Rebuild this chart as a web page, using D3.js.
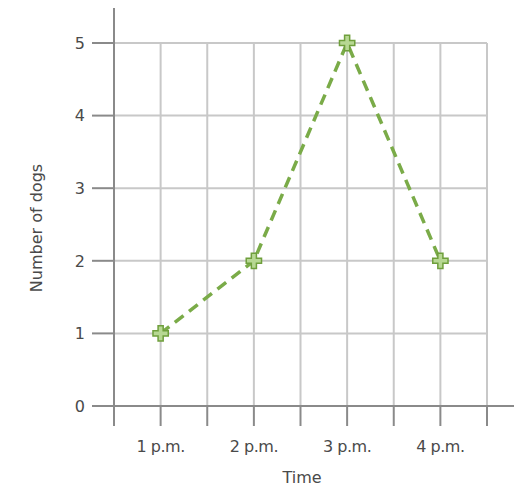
<!DOCTYPE html>
<html><head><meta charset="utf-8">
<script src="https://cdn.jsdelivr.net/npm/d3@7"></script>
<style>body{margin:0;background:#fff}</style>
</head><body>
<svg id="c" width="514" height="486"></svg>
<script>
const categories = ["1 p.m.", "2 p.m.", "3 p.m.", "4 p.m."];
const dogs = [1, 2, 5, 2];
const yTicks = [0, 1, 2, 3, 4, 5];
const xLabel = "Time";
const yLabel = "Number of dogs";

(function () {
const svg = d3.select("#c");
const pLeft = 114, pRight = 487, pTop = 43, pBottom = 406;
const x = d3.scaleLinear().domain([0.5, 4.5]).range([pLeft, pRight]);
const y = d3.scaleLinear().domain([0, 5]).range([pBottom, pTop]);
const font = "'DejaVu Sans', sans-serif";
const gridC = "#c8c8c8", axisC = "#8a8a8a", textC = "#4a4a4a";
const fs = 16;

const vGrid = d3.range(1, 9).map(i => 0.5 + i * 0.5);
svg.append("g").selectAll("line").data(vGrid).join("line")
  .attr("x1", d => x(d)).attr("x2", d => x(d))
  .attr("y1", y(5)).attr("y2", pBottom)
  .attr("stroke", gridC).attr("stroke-width", 2);
svg.append("g").selectAll("line").data(vGrid).join("line")
  .attr("x1", d => x(d)).attr("x2", d => x(d))
  .attr("y1", pBottom).attr("y2", pBottom + 20)
  .attr("stroke", axisC).attr("stroke-width", 2);
svg.append("g").selectAll("line").data(yTicks.filter(d => d > 0)).join("line")
  .attr("x1", pLeft).attr("x2", pRight)
  .attr("y1", d => y(d)).attr("y2", d => y(d))
  .attr("stroke", gridC).attr("stroke-width", 2);
svg.append("g").selectAll("line").data(yTicks).join("line")
  .attr("x1", pLeft - 22).attr("x2", pLeft)
  .attr("y1", d => y(d)).attr("y2", d => y(d))
  .attr("stroke", axisC).attr("stroke-width", 2);
svg.append("line").attr("x1", pLeft).attr("x2", pLeft).attr("y1", 8).attr("y2", pBottom + 20)
  .attr("stroke", axisC).attr("stroke-width", 2);
svg.append("line").attr("x1", pLeft - 22).attr("x2", 514).attr("y1", pBottom).attr("y2", pBottom)
  .attr("stroke", axisC).attr("stroke-width", 2);

svg.append("g").selectAll("text").data(yTicks).join("text")
  .attr("x", 85).attr("y", d => y(d)).attr("dy", "0.36em")
  .attr("text-anchor", "end").attr("font-family", font).attr("font-size", fs)
  .attr("fill", textC).text(d => d);
svg.append("g").selectAll("text").data(categories).join("text")
  .attr("x", (d, i) => x(i + 1)).attr("y", 452)
  .attr("text-anchor", "middle").attr("font-family", font).attr("font-size", fs)
  .attr("letter-spacing", -0.5)
  .attr("fill", textC).text(d => d);
svg.append("text").attr("x", 302).attr("y", 483).attr("text-anchor", "middle")
  .attr("font-family", font).attr("font-size", fs).attr("fill", textC).text(xLabel);
svg.append("text").attr("transform", "translate(42,228) rotate(-90)").attr("text-anchor", "middle")
  .attr("font-family", font).attr("font-size", fs).attr("fill", textC).text(yLabel);

const line = d3.line().x((d, i) => x(i + 1)).y(d => y(d));
svg.append("path").datum(dogs).attr("d", line).attr("fill", "none")
  .attr("stroke", "#7aab48").attr("stroke-width", 3.5).attr("stroke-dasharray", "11,7");
svg.append("g").selectAll("path").data(dogs).join("path")
  .attr("transform", (d, i) => `translate(${x(i + 1)},${y(d)})`)
  .attr("d", d3.symbol(d3.symbolCross, 130))
  .attr("fill", "#b7d893").attr("stroke", "#6f9f3c").attr("stroke-width", 1.5);
})();
</script>
</body></html>
